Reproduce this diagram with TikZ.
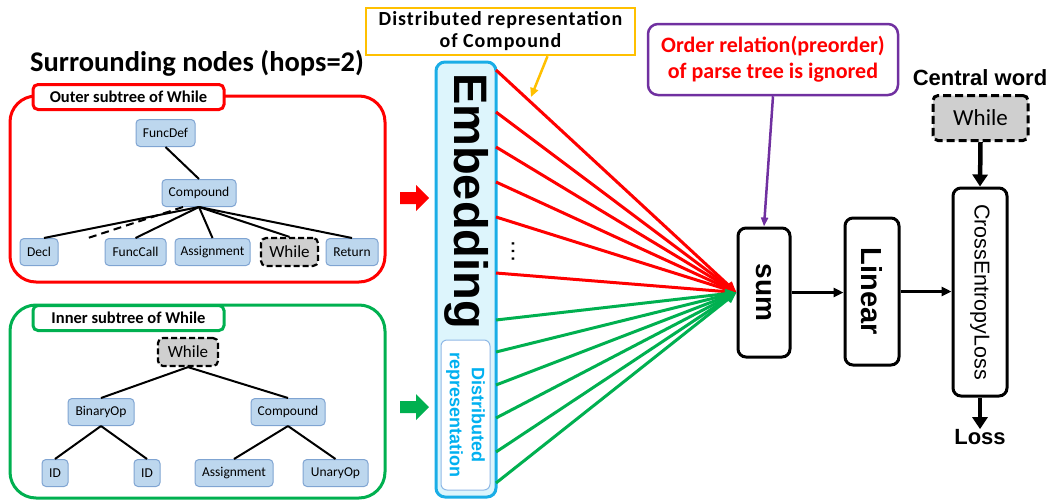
\documentclass[tikz,border=0pt]{standalone}
\usepackage{fontspec}
\setmainfont{Carlito}
\newfontfamily\arialf{Liberation Sans}
\usetikzlibrary{arrows.meta}

\definecolor{treefill}{HTML}{BDD7EE}
\definecolor{treeline}{HTML}{7FA4D2}
\definecolor{embfill}{HTML}{DDF5FC}
\definecolor{embline}{HTML}{1AADE6}
\definecolor{repblue}{HTML}{00B0F0}
\definecolor{repline}{HTML}{8FB8E6}
\definecolor{fanred}{HTML}{FF0000}
\definecolor{fangreen}{HTML}{00B050}
\definecolor{notepurple}{HTML}{7030A0}
\definecolor{noteyellow}{HTML}{FFC000}
\definecolor{wgray}{HTML}{CFCFCF}

\tikzset{
  tnode/.style={draw=treeline, fill=treefill, rounded corners=4, line width=1,
    minimum height=27, inner sep=0, font=\fontsize{13.5}{15}\selectfont},
  wnode/.style={draw=black, fill=wgray, dash pattern=on 6 off 3, line width=2.2,
    rounded corners=5, minimum height=28, inner sep=0, font=\fontsize{17}{19}\selectfont},
  tedge/.style={line width=2},
  groupbox/.style={line width=3, rounded corners=26, inner sep=0},
  grouptitle/.style={line width=3, fill=white, rounded corners=5, inner sep=0,
    minimum width=191, minimum height=25, font=\bfseries\fontsize{16.5}{18}\selectfont},
  stagebox/.style={draw=black, fill=white, line width=3, rounded corners=8, inner sep=0},
  stagetext/.style={rotate=-90, inner sep=0},
  redfan/.style={draw=fanred, line width=3, -{Triangle[length=11,width=9]}},
  greenfan/.style={draw=fangreen, line width=3, -{Triangle[length=11,width=9]}},
  flow/.style={line width=2.5, -{Triangle[length=10,width=9]}},
  thickflow/.style={line width=4.5, -{Triangle[length=12,width=15]}},
}

\begin{document}
\begin{tikzpicture}[x=1pt, y=-1pt]
\path[use as bounding box] (0,0) rectangle (1053,501);

% ---------- heading ----------
\node[font=\bfseries\fontsize{28.5}{30}\selectfont, inner sep=0] (heading) at (197,63) {Surrounding nodes (hops=2)};

% ---------- outer subtree ----------
\node[groupbox, draw=fanred, minimum width=375, minimum height=186] (outer) at (197.5,189) {};
\node[grouptitle, draw=fanred] (outertitle) at (128.5,97) {Outer subtree of While};

\node[tnode, minimum width=59] (funcdef) at (165.5,133) {FuncDef};
\node[tnode, minimum width=74] (ocomp) at (199,193) {Compound};
\node[tnode, minimum width=38] (decl) at (39,252) {Decl};
\node[tnode, minimum width=61] (funccall) at (135.5,252) {FuncCall};
\node[tnode, minimum width=75] (oassign) at (212.5,252) {Assignment};
\node[wnode, minimum width=57] (owhile) at (289.5,252) {While};
\node[tnode, minimum width=52] (return) at (352,252) {Return};
\coordinate (omit) at (88,238);

\draw[tedge] (funcdef.south) -- (ocomp.north);
\draw[tedge] (ocomp.south) -- ([xshift=5]decl.north);
\draw[tedge, dash pattern=on 8 off 5] ([xshift=-16]ocomp.south) -- (omit);
\draw[tedge] (ocomp.south) -- (funccall.north);
\draw[tedge] (ocomp.south) -- (oassign.north);
\draw[tedge] (ocomp.south) -- (owhile.north);
\draw[tedge] (ocomp.south) -- (return.north);

% ---------- inner subtree ----------
\node[groupbox, draw=fangreen, minimum width=375, minimum height=193] (inner) at (197.5,401.5) {};
\node[grouptitle, draw=fangreen] (innertitle) at (128.5,318) {Inner subtree of While};

\node[wnode, minimum width=60] (iwhile) at (188,352) {While};
\node[tnode, minimum width=66] (binop) at (101,412) {BinaryOp};
\node[tnode, minimum width=74] (icomp) at (288,412) {Compound};
\node[tnode, minimum width=26] (ida) at (55,473) {ID};
\node[tnode, minimum width=26] (idb) at (147,473) {ID};
\node[tnode, minimum width=78] (iassign) at (234,473) {Assignment};
\node[tnode, minimum width=65] (unop) at (335.5,473) {UnaryOp};

\draw[tedge] (iwhile.south) -- (binop.north);
\draw[tedge] (iwhile.south) -- (icomp.north);
\draw[tedge] (binop.south) -- (ida.north);
\draw[tedge] (binop.south) -- (idb.north);
\draw[tedge] (icomp.south) -- (iassign.north);
\draw[tedge] (icomp.south) -- (unop.north);

% ---------- block arrows into the embedding ----------
\fill[color=fanred] (400,192) -- (416,192) -- (416,185) -- (429,198) -- (416,211) -- (416,204) -- (400,204) -- cycle;
\fill[color=fangreen] (400,401) -- (416,401) -- (416,394) -- (429,407) -- (416,420) -- (416,413) -- (400,413) -- cycle;

% ---------- embedding ----------
\node[draw=embline, fill=embfill, line width=3, rounded corners=9, inner sep=0,
  minimum width=60, minimum height=435] (emb) at (466,279.5) {};
\node[stagetext, font=\arialf\bfseries\fontsize{47}{47}\selectfont] (embtext) at (467,201) {Embedding};
\node[draw=repline, fill=white, line width=1, rounded corners=6, inner sep=0,
  minimum width=49, minimum height=150] (repbox) at (465.5,415) {};
\node[stagetext, text=repblue, align=center,
  font=\arialf\bfseries\fontsize{18}{22}\selectfont] (reptext) at (465.5,415) {Distributed\\representation};

% ---------- processing stages ----------
\node[stagebox, minimum width=52, minimum height=129] (sum) at (764,292.5) {};
\node[stagetext, font=\arialf\bfseries\fontsize{28}{28}\selectfont] at (sum) {sum};
\node[stagebox, minimum width=54, minimum height=147] (linear) at (872,291.5) {};
\node[stagetext, font=\arialf\bfseries\fontsize{29}{29}\selectfont] at (linear) {Linear};
\node[stagebox, minimum width=54, minimum height=208] (ce) at (980,292) {};
\node[stagetext, font=\arialf\fontsize{21.5}{22}\selectfont] at (ce) {CrossEntropyLoss};

\node[font=\arialf\bfseries\fontsize{22}{23}\selectfont, inner sep=0] (central) at (980,78) {Central word};
\node[wnode, minimum width=95, minimum height=45, line width=3, dash pattern=on 8 off 4,
  font=\fontsize{23}{25}\selectfont] (cwhile) at (980.5,118) {While};
\node[font=\arialf\bfseries\fontsize{22}{24}\selectfont, inner sep=0] (loss) at (980,437) {Loss};

% ---------- fan of embeddings into sum ----------
\foreach \y [count=\i] in {70,112,147,182,217,273} {
  \coordinate (r\i) at (496,\y);
  \draw[redfan] (r\i) -- (sum.west);
}
\foreach \y [count=\i] in {320,352,385,418,452,483} {
  \coordinate (g\i) at (496,\y);
  \draw[greenfan] (g\i) -- (sum.west);
}
\node[rotate=90, font=\arialf\fontsize{24}{24}\selectfont, inner sep=0] (dots) at (513,251) {…};

\draw[flow] (sum.east) -- (sum.east -| linear.west);
\draw[flow] (linear.east) -- (linear.east -| ce.west);
\draw[thickflow] (cwhile.south) -- (ce.north);
\draw[thickflow] (ce.south) -- (loss.north);

% ---------- annotations ----------
\node[draw=noteyellow, fill=white, line width=2.5, inner sep=0, minimum width=269, minimum height=47,
  align=center, font=\bfseries\fontsize{20}{22}\selectfont\addfontfeatures{LetterSpace=5}] (ybox) at (500.5,31.5)
  {Distributed representation\\of Compound};
\coordinate (ytip) at (531,97);
\draw[draw=noteyellow, line width=2.5, -{Triangle[length=9,width=8]}] ([xshift=47]ybox.south) -- (ytip);

\node[draw=notepurple, fill=white, line width=2.5, rounded corners=10, inner sep=0,
  minimum width=250, minimum height=71, align=center, text=fanred,
  font=\bfseries\fontsize{22}{26}\selectfont] (note) at (773,59.5)
  {Order relation(preorder)\\of parse tree is ignored};
\draw[draw=notepurple, line width=2.5, -{Triangle[length=9,width=7]}] (note.south) -- (sum.north);

\end{tikzpicture}
\end{document}
